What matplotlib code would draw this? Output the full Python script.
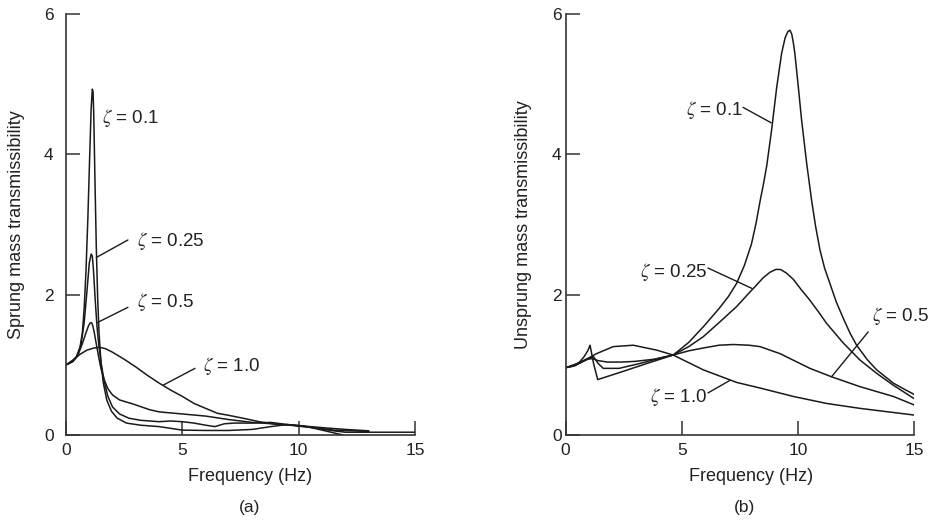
import matplotlib.pyplot as plt

plt.rcParams['font.family'] = ['Liberation Sans', 'DejaVu Sans']
plt.rcParams['mathtext.fontset'] = 'stix'

# (a) sprung mass transmissibility
fa_01 = [0, 0.25, 0.45, 0.6, 0.7, 0.78, 0.86, 0.94, 1.02, 1.08, 1.13, 1.16, 1.19, 1.24, 1.3, 1.36,
         1.42, 1.5, 1.6, 1.75, 1.95, 2.2, 2.6, 3.2, 4.0, 5.0, 6.0, 7.0, 8.0, 8.8, 9.5, 10.2, 11.0, 11.9]
ta_01 = [1.0, 1.04, 1.12, 1.25, 1.45, 1.8, 2.35, 3.1, 4.0, 4.65, 4.93, 4.9, 4.6, 3.7, 2.7, 1.95,
         1.45, 1.05, 0.75, 0.5, 0.34, 0.24, 0.17, 0.14, 0.12, 0.07, 0.065, 0.065, 0.08, 0.12, 0.15, 0.13, 0.07, 0.0]

fa_025 = [0, 0.3, 0.5, 0.65, 0.78, 0.9, 1.0, 1.08, 1.13, 1.18, 1.25, 1.33, 1.42, 1.52, 1.65, 1.8,
          2.0, 2.3, 2.7, 3.2, 3.6, 4.0, 4.5, 5.0, 5.5, 6.0, 6.4, 6.8, 7.2, 8.0, 8.8, 9.5, 10.5, 11.5, 12.3, 13.0]
ta_025 = [1.0, 1.05, 1.13, 1.3, 1.6, 2.05, 2.45, 2.58, 2.55, 2.35, 1.95, 1.55, 1.25, 1.0, 0.75, 0.55,
          0.4, 0.3, 0.24, 0.21, 0.2, 0.19, 0.2, 0.19, 0.17, 0.14, 0.12, 0.16, 0.17, 0.17, 0.18, 0.15, 0.11, 0.07, 0.06, 0.05]

fa_05 = [0, 0.3, 0.5, 0.7, 0.85, 0.97, 1.05, 1.1, 1.15, 1.22, 1.3, 1.4, 1.5, 1.65, 1.8, 2.0,
         2.3, 2.9, 3.6, 4.0, 5.0, 6.0, 7.0, 8.0, 9.3, 10.5, 11.5, 12.0, 13.0, 15.0]
ta_05 = [1.0, 1.05, 1.13, 1.3, 1.45, 1.56, 1.6, 1.6, 1.56, 1.45, 1.3, 1.12, 0.95, 0.78, 0.66, 0.57,
         0.5, 0.44, 0.36, 0.33, 0.3, 0.27, 0.22, 0.18, 0.15, 0.11, 0.06, 0.04, 0.04, 0.04]

fa_10 = [0, 0.3, 0.6, 0.9, 1.2, 1.45, 1.7, 2.0, 2.5, 3.0, 3.5, 4.0, 4.5, 5.0, 5.5, 6.0,
         6.5, 7.0, 7.6, 8.3, 9.1, 9.8, 10.5, 11.2, 12.0, 12.5, 13.0]
ta_10 = [1.0, 1.07, 1.15, 1.21, 1.24, 1.25, 1.23, 1.18, 1.08, 0.97, 0.85, 0.74, 0.64, 0.55, 0.45, 0.38,
         0.31, 0.28, 0.24, 0.19, 0.15, 0.14, 0.12, 0.1, 0.08, 0.07, 0.06]

# (b) unsprung mass transmissibility
fb_01 = [0, 0.3, 0.6, 0.8, 0.95, 1.05, 1.2, 1.38, 2.5, 3.5, 4.63, 5.3, 5.92, 6.6, 7.0, 7.36, 7.7,
         8.0, 8.2, 8.37, 8.52, 8.66, 8.87, 9.09, 9.3, 9.45, 9.57, 9.66, 9.74, 9.81, 9.87, 10.02,
         10.16, 10.38, 10.59, 10.76, 10.95, 11.15, 11.38, 11.65, 11.96, 12.25, 12.53, 13.0, 13.39,
         14.11, 14.6, 15.0]
tb_01 = [0.96, 0.98, 1.04, 1.12, 1.2, 1.28, 1.02, 0.79, 0.91, 1.02, 1.14, 1.32, 1.54, 1.8, 1.97, 2.16, 2.42,
         2.72, 3.02, 3.33, 3.58, 3.84, 4.35, 4.96, 5.44, 5.66, 5.75, 5.77, 5.71, 5.58, 5.44, 4.96,
         4.49, 3.87, 3.35, 2.98, 2.64, 2.38, 2.16, 1.9, 1.66, 1.45, 1.28, 1.07, 0.93,
         0.74, 0.65, 0.58]

fb_025 = [0, 0.4, 0.7, 0.95, 1.15, 1.4, 1.8, 2.4, 3.0, 3.8, 4.63, 5.3, 5.92, 6.6, 7.36, 7.94,
          8.2, 8.5, 8.8, 9.05, 9.25, 9.5, 9.8, 10.15, 10.52, 10.9, 11.24, 11.96, 12.67, 13.39, 14.11, 15.0]
tb_025 = [0.96, 0.99, 1.04, 1.08, 1.09, 1.06, 1.04, 1.04, 1.05, 1.08, 1.14, 1.26, 1.40, 1.6, 1.83, 2.04,
          2.13, 2.24, 2.32, 2.36, 2.36, 2.31, 2.22, 2.07, 1.92, 1.75, 1.59, 1.31, 1.07, 0.88, 0.71, 0.52]

fb_05 = [0, 0.4, 0.8, 1.19, 1.4, 1.62, 2.3, 3.2, 4.0, 4.63, 5.3, 5.92, 6.6, 7.21, 7.9, 8.37,
         9.23, 10.52, 11.45, 12.67, 14.11, 15.0]
tb_05 = [0.96, 0.99, 1.06, 1.12, 1.02, 0.95, 0.95, 1.02, 1.09, 1.14, 1.2, 1.24, 1.28, 1.29, 1.28, 1.26,
         1.16, 0.95, 0.83, 0.69, 0.55, 0.43]

fb_10 = [0, 0.5, 1.0, 1.33, 2.05, 2.91, 3.92, 4.63, 5.92, 7.36, 8.37, 9.8, 11.24, 12.67, 15.0]
tb_10 = [0.96, 1.02, 1.1, 1.16, 1.26, 1.28, 1.21, 1.14, 0.93, 0.75, 0.67, 0.55, 0.45, 0.38, 0.285]

fig = plt.figure(figsize=(9.31, 5.24), dpi=100)
ax1 = fig.add_axes([0.0709, 0.1698, 0.375, 0.8034])
ax2 = fig.add_axes([0.6076, 0.1698, 0.3741, 0.8034])

lc = '#1a1a1a'
lw = 1.1
tc = '#222222'

for ax, curves in ((ax1, [(fa_01, ta_01), (fa_025, ta_025), (fa_05, ta_05), (fa_10, ta_10)]),
                   (ax2, [(fb_01, tb_01), (fb_025, tb_025), (fb_05, tb_05), (fb_10, tb_10)])):
    for f, t in curves:
        ax.plot(f, t, color=lc, lw=lw)
    ax.set_xlim(0, 15)
    ax.set_ylim(0, 6)
    ax.set_xticks([0, 5, 10, 15])
    ax.set_yticks([0, 2, 4, 6])
    for s in ('top', 'right'):
        ax.spines[s].set_visible(False)
    for s in ('left', 'bottom'):
        ax.spines[s].set_linewidth(1.2)
        ax.spines[s].set_color('#333333')
    ax.tick_params(direction='in', length=10, width=1.1, colors='#333333',
                   labelsize=12.5, labelcolor=tc)
    ax.tick_params(axis='x', pad=6)
    ax.set_xlabel('Frequency (Hz)', fontsize=13, color=tc)

ax1.tick_params(axis='y', pad=9)
ax2.tick_params(axis='y', pad=3)

ax1.set_ylabel('Sprung mass transmissibility', fontsize=13, color=tc)
ax2.set_ylabel('Unsprung mass transmissibility', fontsize=13, color=tc)
ax1.yaxis.set_label_coords(-0.118, 0.5)
ax2.yaxis.set_label_coords(-0.097, 0.5)
ax1.xaxis.set_label_coords(0.527, -0.078)
ax2.xaxis.set_label_coords(0.531, -0.078)

ax1.text(0.527, -0.173, '(a)', transform=ax1.transAxes, ha='center', va='center', fontsize=12.5, color=tc)
ax2.text(0.514, -0.173, '(b)', transform=ax2.transAxes, ha='center', va='center', fontsize=12.5, color=tc)

fs = 13.5
leader = dict(arrowstyle='-', color=lc, lw=1.0, shrinkA=0, shrinkB=0)

# labels for panel (a)
ax1.text(1.55, 4.52, r'$\zeta$ = 0.1', fontsize=fs, va='center', ha='left', color=tc)
ax1.text(3.05, 2.76, r'$\zeta$ = 0.25', fontsize=fs, va='center', ha='left', color=tc)
ax1.annotate('', xy=(1.3, 2.53), xytext=(2.66, 2.78), arrowprops=leader)
ax1.text(3.05, 1.90, r'$\zeta$ = 0.5', fontsize=fs, va='center', ha='left', color=tc)
ax1.annotate('', xy=(1.33, 1.60), xytext=(2.66, 1.82), arrowprops=leader)
ax1.text(5.89, 0.98, r'$\zeta$ = 1.0', fontsize=fs, va='center', ha='left', color=tc)
ax1.annotate('', xy=(4.17, 0.71), xytext=(5.54, 0.95), arrowprops=leader)

# labels for panel (b)
ax2.text(7.63, 4.63, r'$\zeta$ = 0.1', fontsize=fs, va='center', ha='right', color=tc)
ax2.annotate('', xy=(8.85, 4.45), xytext=(7.64, 4.67), arrowprops=leader)
ax2.text(6.13, 2.32, r'$\zeta$ = 0.25', fontsize=fs, va='center', ha='right', color=tc)
ax2.annotate('', xy=(8.02, 2.09), xytext=(6.13, 2.38), arrowprops=leader)
ax2.text(13.18, 1.69, r'$\zeta$ = 0.5', fontsize=fs, va='center', ha='left', color=tc)
ax2.annotate('', xy=(11.45, 0.83), xytext=(13.03, 1.47), arrowprops=leader)
ax2.text(6.09, 0.54, r'$\zeta$ = 1.0', fontsize=fs, va='center', ha='right', color=tc)
ax2.annotate('', xy=(7.08, 0.78), xytext=(6.13, 0.60), arrowprops=leader)

for ax in (ax1, ax2):
    for t in ax.texts:
        t.set_clip_on(False)

fig.savefig('out.png', dpi=100)
